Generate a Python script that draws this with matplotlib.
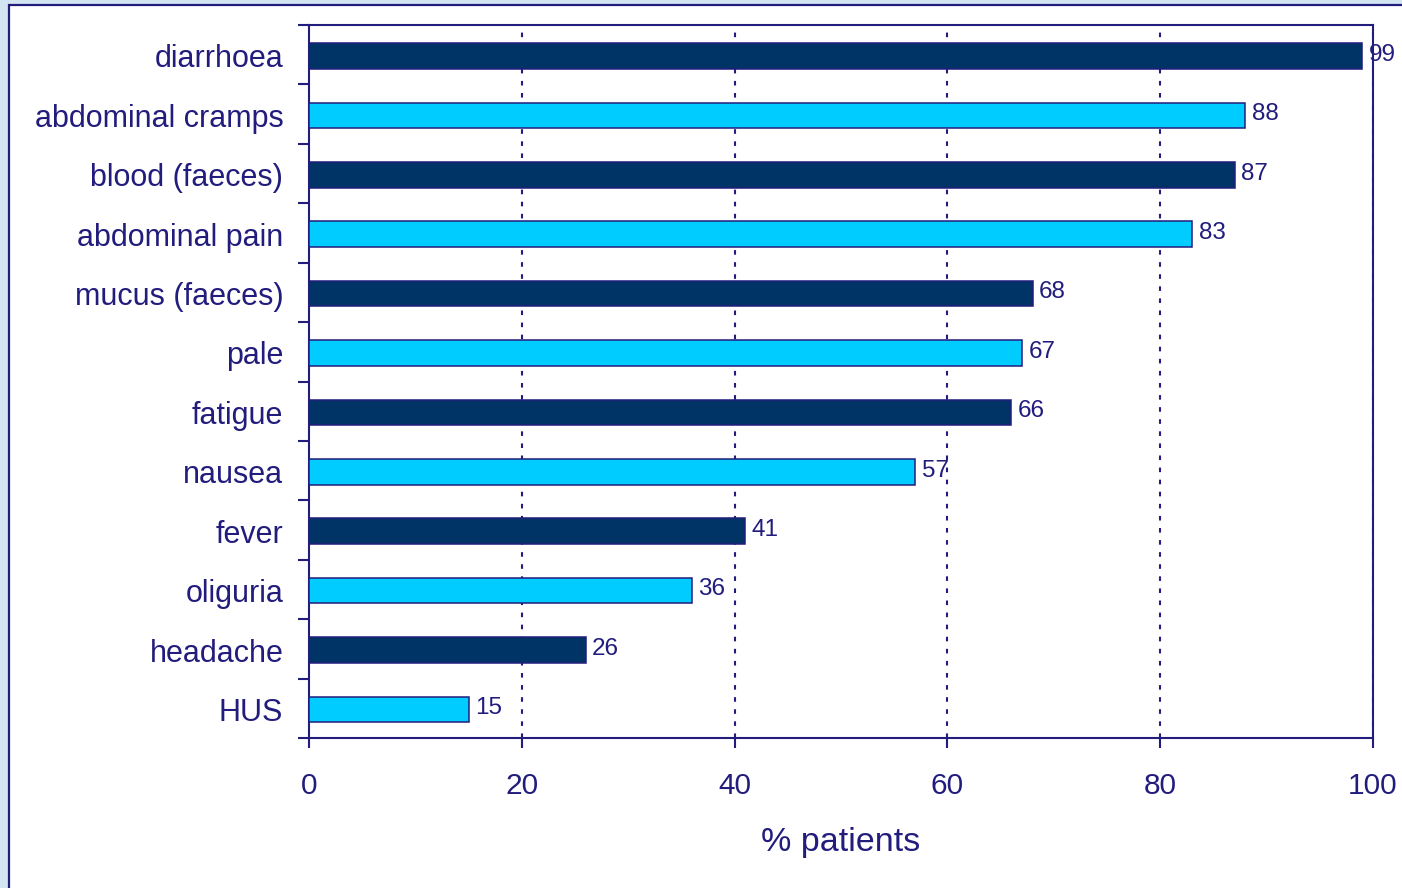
import matplotlib
matplotlib.use("Agg")
import matplotlib.pyplot as plt
from matplotlib.patches import Rectangle
import numpy as np

plt.rcParams['font.family'] = ['Liberation Sans', 'DejaVu Sans']

# symptoms, top to bottom
symptoms = ['diarrhoea', 'abdominal cramps', 'blood (faeces)', 'abdominal pain',
            'mucus (faeces)', 'pale', 'fatigue', 'nausea', 'fever', 'oliguria',
            'headache', 'HUS']
pct = [99, 88, 87, 83, 68, 67, 66, 57, 41, 36, 26, 15]
xticks = [0, 20, 40, 60, 80, 100]

NAVY = '#221c7c'
DARK = '#003366'
CYAN = '#00ccff'
BG = '#d3e5f0'

fig = plt.figure(figsize=(14.02, 8.88), dpi=100, facecolor=BG)
# white panel with navy border (runs off the right and bottom edges)
panel = Rectangle((9 / 1402, -0.02), 1.02, (888 - 5) / 888 + 0.02,
                  transform=fig.transFigure, facecolor='white',
                  edgecolor=NAVY, lw=1.6, zorder=-5)
fig.add_artist(panel)

ax = fig.add_axes([309 / 1402, 1 - 738 / 888, (1373 - 309) / 1402, (738 - 25) / 888])
ax.set_zorder(1)
ax.set_facecolor('white')

n = len(symptoms)
ypos = np.arange(n)[::-1] + 0.48
colors = [DARK if i % 2 == 0 else CYAN for i in range(n)]
ax.barh(ypos, pct, height=0.43, color=colors, edgecolor=NAVY, lw=1.1, zorder=3)

for y, v in zip(ypos, pct):
    ax.text(v + 0.6, y + 0.02, str(v), va='center', ha='left', fontsize=17.5,
            color=NAVY, zorder=4)

ax.set_xlim(0, 100)
ax.set_ylim(0, n)
ax.set_xticks(xticks)
ax.set_xticklabels([str(t) for t in xticks])
ax.set_yticks(np.arange(n + 1))
ax.set_yticklabels([])
ax.set_yticks(ypos, minor=True)
ax.set_yticklabels(symptoms, minor=True)

ax.tick_params(axis='x', direction='out', length=7.5, width=1.5, colors=NAVY,
               labelsize=21.5, pad=17)
ax.tick_params(axis='y', which='major', direction='out', length=8, width=1.5,
               colors=NAVY)
ax.tick_params(axis='y', which='minor', length=0, labelsize=22, pad=18.5,
               labelcolor=NAVY)

for s in ax.spines.values():
    s.set_color(NAVY)
    s.set_linewidth(1.5)

for t in xticks[1:]:
    ax.axvline(t, color=NAVY, lw=1.5, ls=(0, (2.2, 3.6)), zorder=2)

ax.set_xlabel('% patients', fontsize=24.5, color=NAVY, va='center')
ax.xaxis.set_label_coords(0.5, -(843 - 738) / 713)

fig.savefig('out.png', dpi=100, facecolor=BG)
